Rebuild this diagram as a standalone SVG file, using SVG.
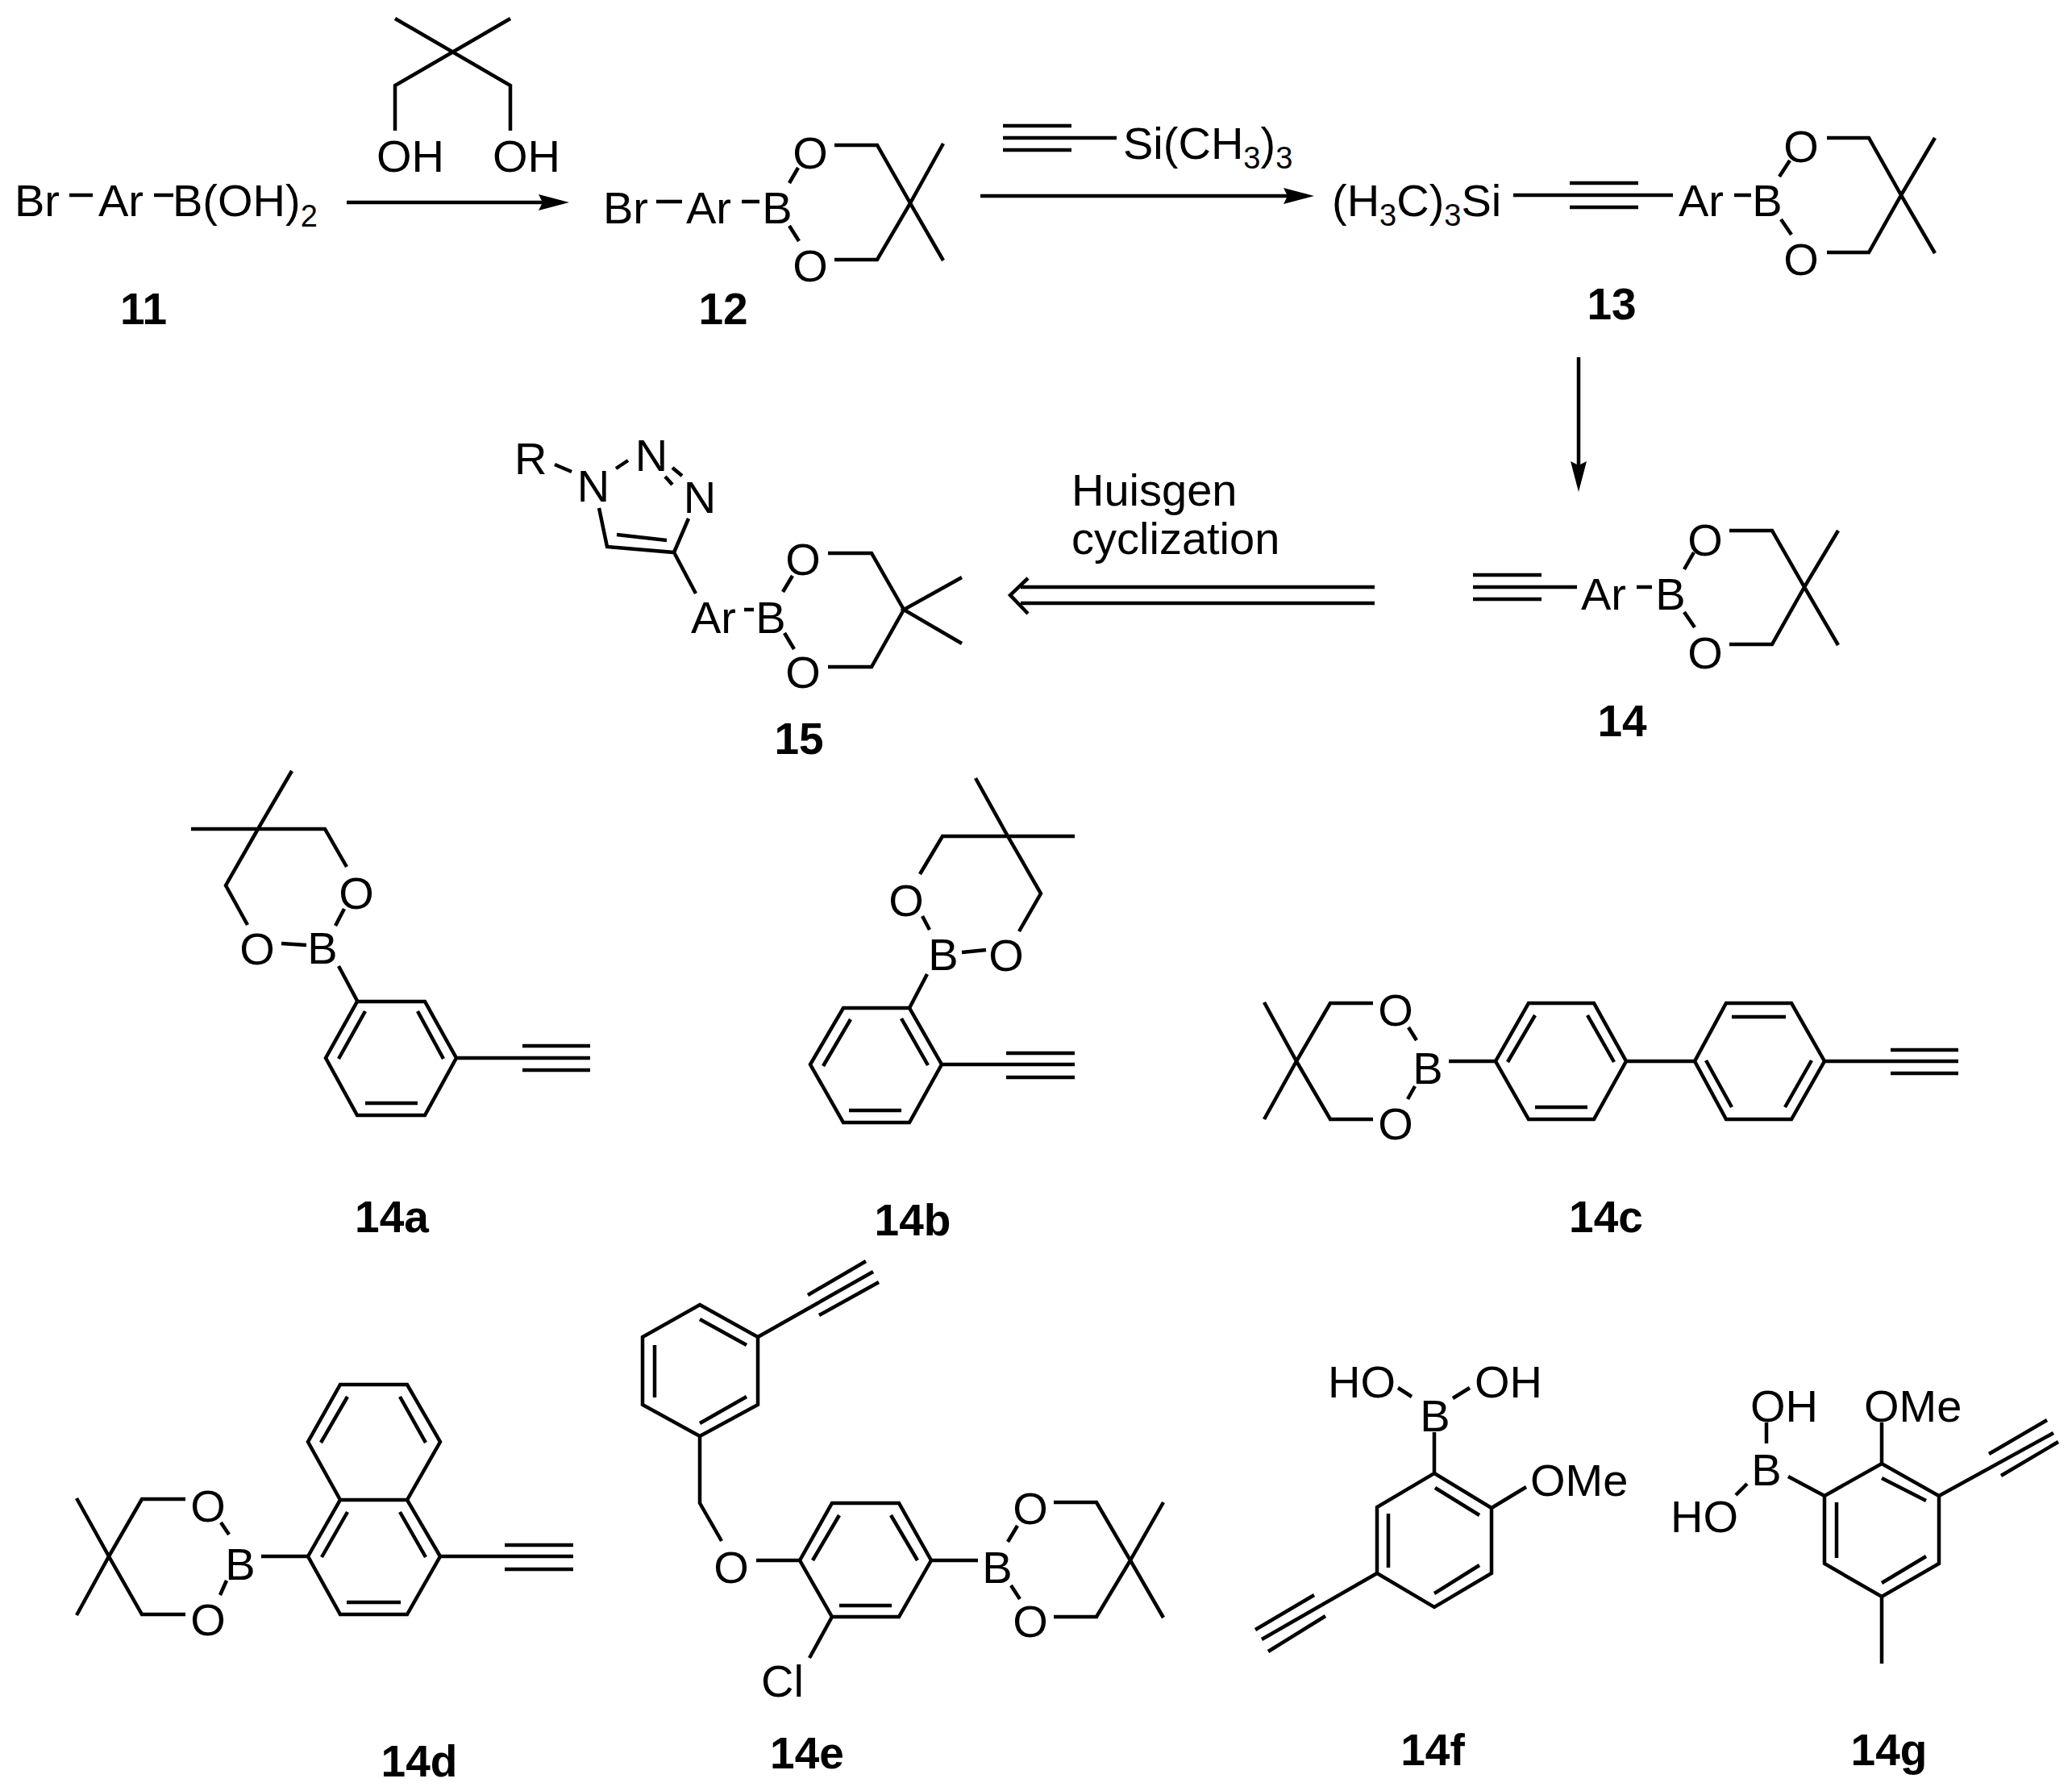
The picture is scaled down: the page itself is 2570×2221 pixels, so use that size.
<svg xmlns="http://www.w3.org/2000/svg" width="2570" height="2221" viewBox="0 0 2570 2221">
<style>
.b{fill:none;stroke:#000;stroke-width:4.5;stroke-linejoin:miter}
text{fill:#000;font-family:"Liberation Sans",Arial,sans-serif}
.a{font-size:56px}
.m{font-size:56px;text-anchor:middle}
.l{font-size:55px;font-weight:700;text-anchor:middle}
.s{font-size:38px}
</style>
<defs>
<marker id="head" markerUnits="userSpaceOnUse" markerWidth="42" markerHeight="26" refX="28" refY="13" orient="auto"><path d="M0 3L38 13L0 23L5 13Z" fill="#000"/></marker>
</defs>
<rect width="2570" height="2221" fill="#fff"/>
<g id="connectors">
<path class="b" d="M430 251H696" marker-end="url(#head)"/>
<path class="b" d="M1216 243H1620" marker-end="url(#head)"/>
<path class="b" d="M1958 443V600" marker-end="url(#head)"/>
<path class="b" d="M1705 728H1266M1705 748H1266M1275 717L1253 738L1275 761"/>
</g>
<g id="neopentyl-glycol">
<path class="b" d="M490 23L561 65L633 23M561 65L490 106V162M561 65L633 106V162" style="display:none"/>
<path class="b" d="M490 23L633 106V162M633 23L490 106V162"/>
<text class="a" x="467" y="213">OH</text><text class="a" x="611" y="213">OH</text>
</g>
<g id="c11">
<text class="a" x="18" y="268">Br</text><path class="b" d="M86 242H115M191 242H215"/>
<text class="a" x="122" y="268">Ar</text>
<text class="a" x="214" y="268">B(OH)<tspan class="s" dy="13">2</tspan></text>
<text class="l" x="178" y="402">11</text>
</g>
<g id="c12">
<text class="a" x="748" y="277">Br</text><path class="b" d="M814 250H846M920 250H942"/>
<text class="a" x="851" y="277">Ar</text><text class="m" x="964" y="277">B</text>
<text class="m" x="1005" y="209">O</text><text class="m" x="1005" y="349">O</text>
<path class="b" d="M979 227L990 208M979 280L991 299M1035 180H1088L1129 252L1088 322H1035M1170 178L1129 252L1170 323"/>
<text class="l" x="897" y="402">12</text>
</g>
<g id="tms-acetylene">
<path class="b" d="M1244 156H1329M1244 171H1385M1244 186H1329"/>
<text class="a" x="1393" y="197">Si(CH<tspan class="s" dy="12">3</tspan><tspan dy="-12">)</tspan><tspan class="s" dy="12">3</tspan></text>
</g>
<g id="c13">
<text class="a" x="1652" y="268">(H<tspan class="s" dy="12">3</tspan><tspan dy="-12">C)</tspan><tspan class="s" dy="12">3</tspan><tspan dy="-12">Si</tspan></text>
<path class="b" d="M1877 242H2075M1947 227H2032M1947 257H2032M2151 242H2172"/>
<text class="a" x="2082" y="268">Ar</text><text class="m" x="2192" y="268">B</text>
<text class="m" x="2234" y="201">O</text><text class="m" x="2234" y="341">O</text>
<path class="b" d="M2207 219L2220 199M2209 272L2222 291M2266 171H2318L2358 242L2318 313H2266M2400 171L2358 242L2400 314"/>
<text class="l" x="1999" y="396">13</text>
</g>
<g id="c14">
<path class="b" d="M1827 713H1912M1827 728H1956M1827 743H1912M2030 728H2049"/>
<text class="a" x="1961" y="756">Ar</text><text class="m" x="2072" y="756">B</text>
<text class="m" x="2115" y="689">O</text><text class="m" x="2115" y="829">O</text>
<path class="b" d="M2089 706L2101 685M2089 759L2102 778M2145 658H2198L2238 728L2198 799H2145M2280 658L2238 728L2280 800"/>
<text class="l" x="2012" y="913">14</text>
</g>
<g id="huisgen-label">
<text class="a" x="1329" y="627">Huisgen</text>
<text class="a" x="1329" y="687">cyclization</text>
</g>
<g id="c15">
<text class="a" x="638" y="588">R</text><path class="b" d="M688 576L709 585M764 581L779 571M834 580L846 590M825 591L834 601M854 643L836 685L753 678L743 630M765 663L827 670M836 685L863 736M923 756H935"/>
<text class="m" x="736" y="622">N</text><text class="m" x="808" y="584">N</text><text class="m" x="868" y="636">N</text>
<text class="a" x="857" y="785">Ar</text><text class="m" x="956" y="785">B</text>
<text class="m" x="996" y="713">O</text><text class="m" x="996" y="853">O</text>
<path class="b" d="M971 734L983 714M973 785L985 805M1027 686H1081L1121 756L1081 827H1027M1193 716L1121 756L1193 798"/>
<text class="l" x="991" y="935">15</text>
</g>
<g id="c14a">
<path class="b" d="M362 956L320 1028L280 1098L307 1147M237 1028H403L430 1075M349 1170L380 1172M416 1148L427 1127M420 1198L443 1241"/>
<path class="b" d="M443 1242H527L566 1312L527 1383H443L404 1312ZM453 1254L420 1313M518 1254L550 1313M453 1368H518M566 1312H732M648 1297H732M648 1327H732"/>
<text class="m" x="319" y="1196">O</text><text class="m" x="442" y="1127">O</text><text class="m" x="400" y="1195">B</text>
<text class="l" x="486" y="1528">14a</text>
</g>
<g id="c14b">
<path class="b" d="M1210 965L1250 1037L1291 1108L1264 1155M1333 1037H1169L1141 1084M1193 1181L1223 1178M1144 1136L1153 1153M1150 1208L1128 1250"/>
<path class="b" d="M1128 1250H1046L1005 1320L1046 1392H1128L1168 1320ZM1055 1264L1021 1322M1118 1263L1151 1321M1053 1377H1118M1168 1320H1333M1248 1306H1333M1248 1336H1333"/>
<text class="m" x="1124" y="1136">O</text><text class="m" x="1248" y="1204">O</text><text class="m" x="1170" y="1203">B</text>
<text class="l" x="1132" y="1532">14b</text>
</g>
<g id="c14c">
<path class="b" d="M1568 1243L1608 1316L1568 1388M1703 1244H1650L1608 1316L1650 1388H1703M1747 1274L1757 1290M1755 1347L1746 1363M1797 1316H1855"/>
<path class="b" d="M1855 1316L1896 1244H1977L2017 1316L1977 1388H1896ZM1904 1259L1870 1317M1969 1259L2002 1317M1904 1373H1969M2017 1316H2102"/>
<path class="b" d="M2102 1316L2141 1244H2222L2263 1316L2222 1388H2141ZM2148 1261H2215M2116 1315L2148 1373M2247 1315L2214 1373M2263 1316H2429M2345 1302H2429M2345 1331H2429"/>
<text class="m" x="1731" y="1272">O</text><text class="m" x="1731" y="1413">O</text><text class="m" x="1771" y="1344">B</text>
<text class="l" x="1992" y="1528">14c</text>
</g>
<g id="c14d">
<path class="b" d="M95 1858L135 1930L95 2003M230 1859H176L135 1930L176 2002H230M274 1888L284 1903M281 1960L273 1978M324 1930H382"/>
<path class="b" d="M382 1930L422 1860H505L546 1930L505 2002H422ZM422 1860L382 1788L422 1717H505L546 1788L505 1860M431 1732L398 1789M496 1732L528 1789M431 1875L399 1931M496 1875L528 1931M430 1987H497M546 1930H711M626 1916H711M626 1946H711"/>
<text class="m" x="258" y="1887">O</text><text class="m" x="258" y="2028">O</text><text class="m" x="298" y="1959">B</text>
<text class="l" x="520" y="2203">14d</text>
</g>
<g id="c14e">
<path class="b" d="M868 1618L940 1658V1742L868 1781L797 1742V1658ZM868 1636L926 1668M926 1732L868 1765M812 1668V1733M940 1658L1083 1577M1002 1606L1074 1564M1016 1631L1090 1590M868 1781V1864L895 1911M938 1935H992"/>
<path class="b" d="M992 1935L1032 1864H1115L1155 1935L1115 2005H1032ZM1041 1879L1008 1935M1105 1879L1138 1935M1041 1991H1106M1032 2005L1004 2056M1155 1935H1213M1250 1912L1262 1892M1254 1966L1265 1983M1307 1863H1360L1402 1935L1360 2005H1307M1443 1863L1402 1935L1443 2006"/>
<text class="m" x="907" y="1963">O</text><text class="m" x="1278" y="1890">O</text><text class="m" x="1278" y="2030">O</text><text class="m" x="1237" y="1963">B</text>
<text class="a" x="944" y="2104">Cl</text>
<text class="l" x="1001" y="2193">14e</text>
</g>
<g id="c14f">
<path class="b" d="M1734 1721L1751 1732M1802 1734L1823 1721M1779 1776V1827M1779 1827L1850 1870V1951L1779 1993L1708 1951V1869ZM1780 1845L1835 1879M1835 1941L1779 1976M1722 1877V1944M1850 1870L1893 1844M1708 1951L1565 2033M1630 1978L1557 2021M1644 2004L1573 2048"/>
<text class="a" x="1647" y="1733">HO</text><text class="a" x="1829" y="1733">OH</text><text class="m" x="1780" y="1775">B</text><text class="a" x="1898" y="1855">OMe</text>
<text class="l" x="1777" y="2189">14f</text>
</g>
<g id="c14g">
<path class="b" d="M2191 1764V1790M2167 1840L2153 1854M2218 1831L2263 1855M2263 1855L2334 1815L2405 1855V1939L2334 1980L2263 1939ZM2334 1833L2389 1861M2389 1930L2334 1963M2278 1863V1932M2334 1815V1764M2334 1980V2063M2405 1855L2547 1777M2467 1803L2539 1761M2482 1830L2553 1788"/>
<text class="a" x="2171" y="1763">OH</text><text class="a" x="2312" y="1763">OMe</text><text class="m" x="2191" y="1842">B</text><text class="a" x="2072" y="1900">HO</text>
<text class="l" x="2343" y="2189">14g</text>
</g>
</svg>
